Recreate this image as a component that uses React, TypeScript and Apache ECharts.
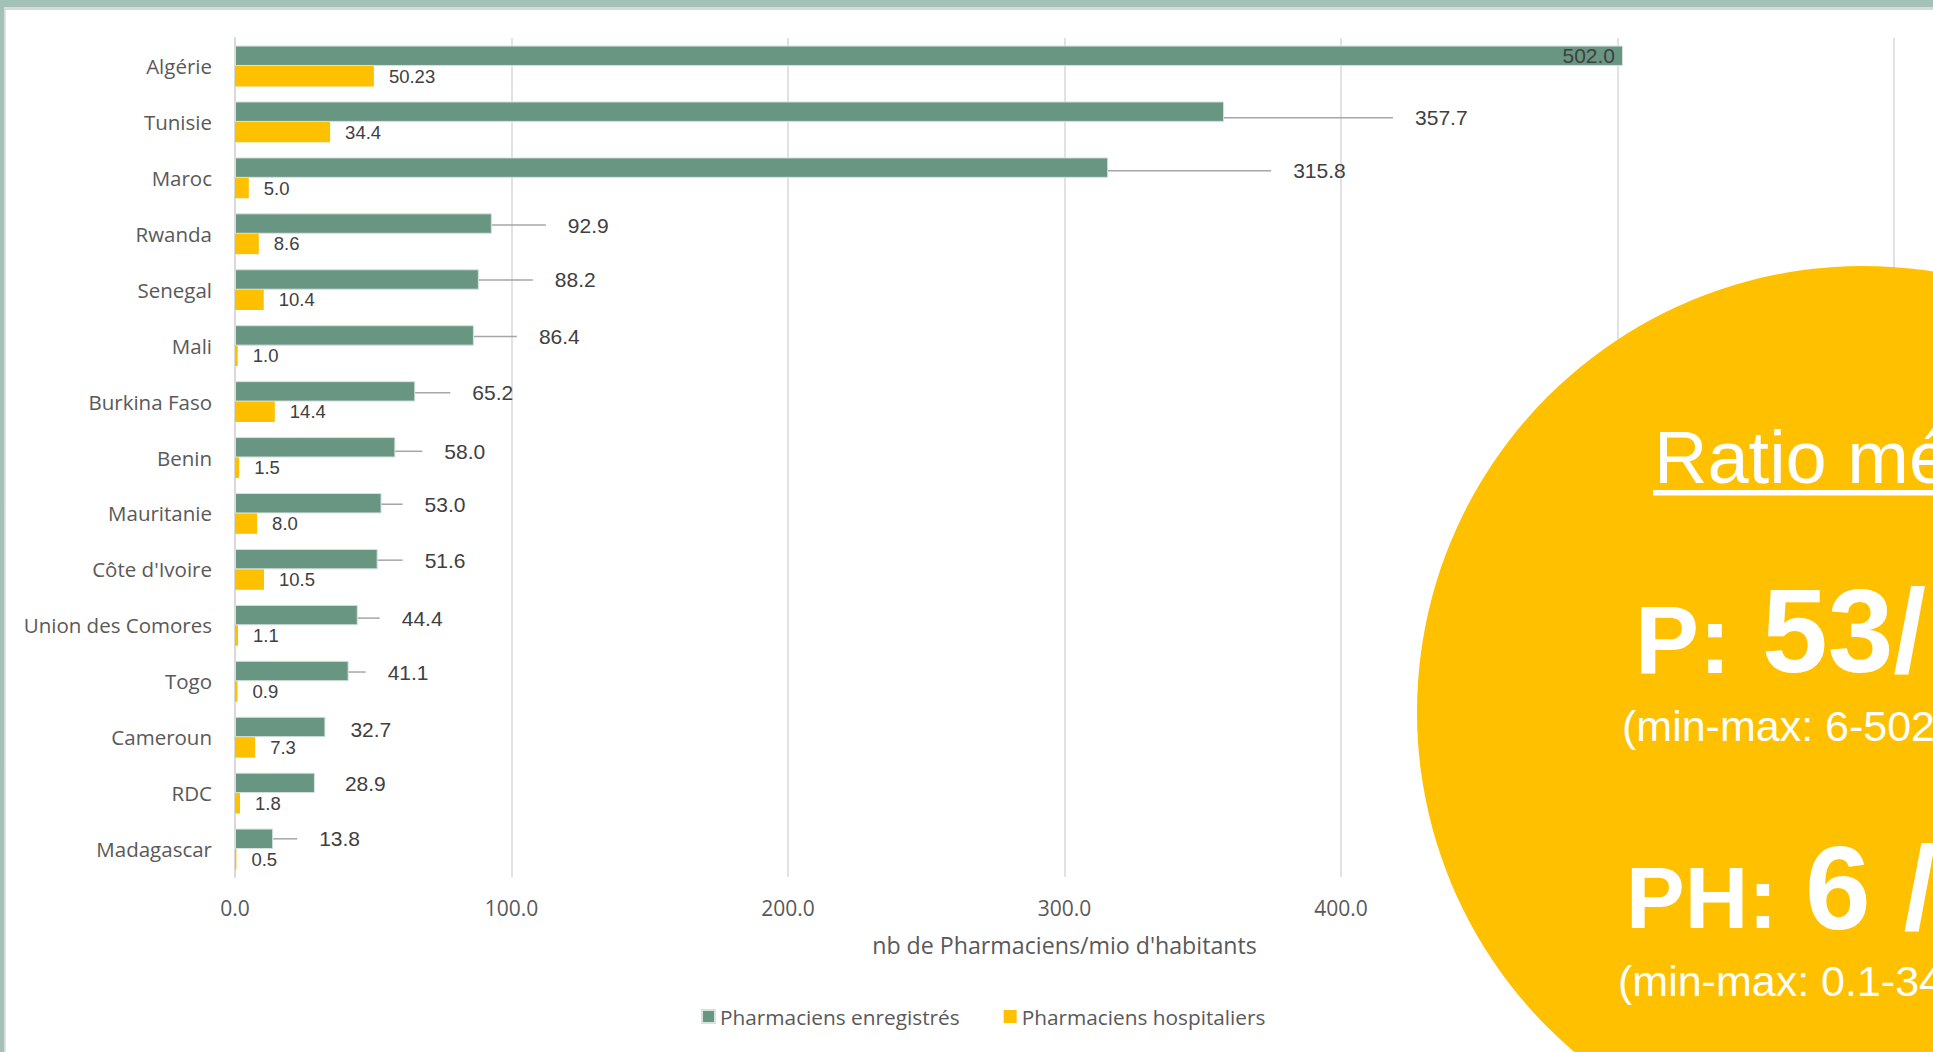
import React, { useEffect, useRef } from "react";
import * as echarts from "echarts";

// ---------- data ----------
const categories = [
  "Algérie",
  "Tunisie",
  "Maroc",
  "Rwanda",
  "Senegal",
  "Mali",
  "Burkina Faso",
  "Benin",
  "Mauritanie",
  "Côte d'Ivoire",
  "Union des Comores",
  "Togo",
  "Cameroun",
  "RDC",
  "Madagascar",
];
const registeredValues = [502.0, 357.7, 315.8, 92.9, 88.2, 86.4, 65.2, 58.0, 53.0, 51.6, 44.4, 41.1, 32.7, 28.9, 13.8];
const hospitalValues = [50.23, 34.4, 5.0, 8.6, 10.4, 1.0, 14.4, 1.5, 8.0, 10.5, 1.1, 0.9, 7.3, 1.8, 0.5];
const seriesNames = ["Pharmaciens enregistrés", "Pharmaciens hospitaliers"];
const axisTitle = "nb de Pharmaciens/mio d'habitants";
const axisMin = 0;
const axisMax = 600;
const axisStep = 100;
// tick labels that stay visible (the ones beyond are hidden under the callout disc)
const visibleTickMax = 400;

// callout texts
const calloutTitle = "Ratio médian";
const calloutP = ["P: ", "53/mio", "(min-max: 6-502)"];
const calloutPH = ["PH: ", "6 /mio", "(min-max: 0.1-34)"];

// ---------- label layout (pixels: gap from bar end to label text, vertical nudge) ----------
const greenLabelGap = [0, 191, 185, 76, 76, 65, 57, 49, 43, 47, 44, 39, 25, 30, 46];
const greenLabelDy = [0, 6, 3, 1.5, 0.5, 1, 1.5, 4, 1, 1, 3, 1, 3, 1, 0];
const noLeaderLine = [0, 12, 13];
const LEADER_GAP = 22;

const CAT_FONT = '"Open Sans", "Noto Sans", sans-serif';
const NUM_FONT = '"Liberation Sans", Arial, sans-serif';
const GREEN = "#689682";
const GOLD = "#FFC000";
const GREY_TEXT = "#595959";
const DARK_TEXT = "#404040";

const fmtHosp = (v: number) =>
  Math.abs(v * 10 - Math.round(v * 10)) < 1e-6 ? v.toFixed(1) : String(v);

export default function App() {
  const ref = useRef<HTMLDivElement>(null);

  useEffect(() => {
    if (!ref.current) return;
    const chart = echarts.init(ref.current, null, { renderer: "svg" });

    const whiteText = (text: string, x: number, y: number, size: number, weight: string) => ({
      type: "text",
      z: 110,
      x,
      y,
      style: {
        text,
        fill: "#ffffff",
        fontFamily: NUM_FONT,
        fontSize: size,
        fontWeight: weight,
        align: "left",
        verticalAlign: "middle",
      },
    });

    const option: any = {
      animation: false,
      backgroundColor: "#ffffff",
      grid: { left: 235, right: 39, top: 38, bottom: 175, containLabel: false },
      legend: {
        data: seriesNames,
        left: 696,
        top: 1001,
        icon: "rect",
        itemWidth: 13,
        itemHeight: 13,
        itemGap: 44,
        textStyle: { fontFamily: CAT_FONT, fontSize: 20.8, color: GREY_TEXT },
      },
      xAxis: {
        type: "value",
        min: axisMin,
        max: axisMax,
        interval: axisStep,
        name: axisTitle,
        nameLocation: "middle",
        nameGap: 56,
        nameTextStyle: { fontFamily: CAT_FONT, fontSize: 23.2, color: GREY_TEXT },
        axisLine: { show: false },
        axisTick: { show: false },
        axisLabel: {
          formatter: (v: number) => (v <= visibleTickMax ? v.toFixed(1) : ""),
          color: GREY_TEXT,
          fontFamily: CAT_FONT,
          fontSize: 21,
          margin: 20,
        },
        splitLine: { show: true, lineStyle: { color: "#d9d9d9", width: 1.5 } },
      },
      yAxis: {
        type: "category",
        inverse: true,
        data: categories,
        axisLine: { show: true, lineStyle: { color: "#d9d9d9", width: 2 } },
        axisTick: { show: false },
        axisLabel: { color: GREY_TEXT, fontFamily: CAT_FONT, fontSize: 20.5, margin: 23 },
        splitLine: { show: false },
      },
      series: [
        {
          name: seriesNames[0],
          type: "bar",
          barGap: "0%",
          barCategoryGap: "27%",
          itemStyle: { color: GREEN, borderColor: "#d6e2dc", borderWidth: 1 },
          emphasis: { disabled: true },
          data: registeredValues.map((v, i) => {
            if (i === 0)
              return {
                value: v,
                label: { position: "insideRight", distance: 8 },
                labelLine: { show: false },
              };
            if (noLeaderLine.includes(i)) return { value: v, labelLine: { show: false } };
            return v;
          }),
          label: {
            show: true,
            position: "right",
            distance: 0,
            formatter: (p: any) => {
              const t = Number(p.value).toFixed(1);
              return p.dataIndex === 0 ? `{v|${t}}` : `{g| }{v|${t}}`;
            },
            rich: {
              g: { width: LEADER_GAP, fontSize: 20 },
              v: { color: DARK_TEXT, fontFamily: NUM_FONT, fontSize: 21 },
            },
            color: DARK_TEXT,
            fontFamily: NUM_FONT,
            fontSize: 21,
          },
          labelLine: { show: true, lineStyle: { color: "#a6a6a6", width: 1.5 } },
          labelLayout: (p: any) => {
            const i = p.dataIndex;
            if (i === 0) return {};
            const r = p.rect;
            return {
              x: r.x + r.width + greenLabelGap[i] - LEADER_GAP,
              y: r.y + r.height / 2 + greenLabelDy[i],
              align: "left",
              verticalAlign: "middle",
            };
          },
        },
        {
          name: seriesNames[1],
          type: "bar",
          barGap: "0%",
          barCategoryGap: "27%",
          itemStyle: { color: GOLD },
          emphasis: { disabled: true },
          data: hospitalValues,
          label: {
            show: true,
            position: "right",
            distance: 15,
            formatter: (p: any) => fmtHosp(Number(p.value)),
            color: DARK_TEXT,
            fontFamily: NUM_FONT,
            fontSize: 18.5,
          },
        },
      ],
      graphic: [
        // slide frame
        { type: "rect", z: 120, shape: { x: 0, y: 0, width: 1933, height: 7.5 }, style: { fill: "#a3c1b7" } },
        { type: "rect", z: 120, shape: { x: 4, y: 7.5, width: 1929, height: 2.5 }, style: { fill: "#d9d9d9" } },
        { type: "rect", z: 120, shape: { x: 0, y: 0, width: 4, height: 1052 }, style: { fill: "#a3c1b7" } },
        { type: "rect", z: 120, shape: { x: 4, y: 7.5, width: 1.7, height: 1045 }, style: { fill: "#d9d9d9" } },
        // callout disc
        { type: "circle", z: 100, shape: { cx: 1863, cy: 712, r: 446 }, style: { fill: GOLD } },
        whiteText(calloutTitle, 1654, 457, 74, "normal"),
        { type: "rect", z: 110, shape: { x: 1653, y: 490, width: 300, height: 5.5 }, style: { fill: "#ffffff" } },
        whiteText(calloutP[0], 1635, 639, 96, "bold"),
        whiteText(calloutP[1], 1762, 631, 118, "bold"),
        whiteText(calloutP[2], 1622, 726, 43, "normal"),
        whiteText(calloutPH[0], 1626, 897, 88, "bold"),
        whiteText(calloutPH[1], 1805, 888, 118, "bold"),
        whiteText(calloutPH[2], 1618, 981, 43, "normal"),
      ],
    };

    chart.setOption(option);
    return () => chart.dispose();
  }, []);

  return (
    <div
      ref={ref}
      style={{ position: "fixed", left: 0, top: 0, width: 1933, height: 1052, background: "#fff" }}
    />
  );
}
